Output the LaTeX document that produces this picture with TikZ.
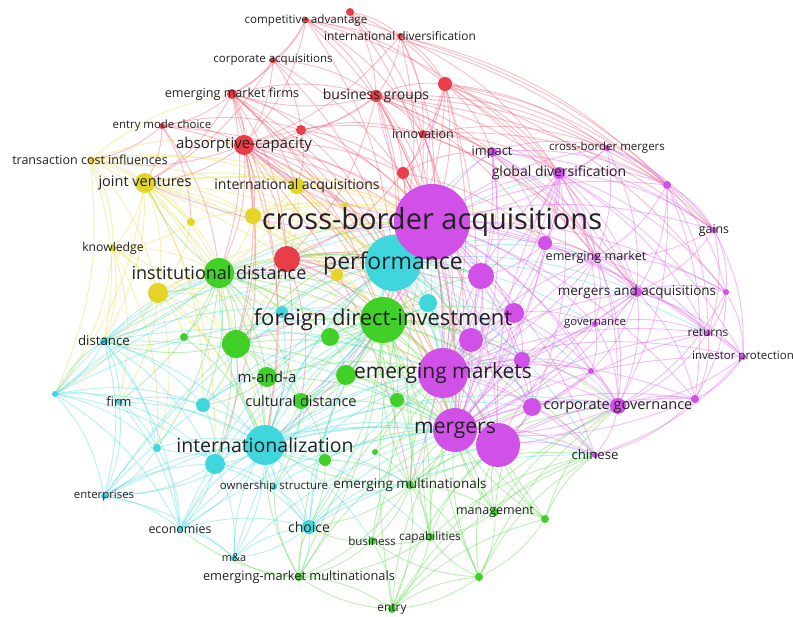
\documentclass[tikz,border=0pt]{standalone}
\usepackage{fontspec}
\setmainfont{Open Sans}
\pgfdeclarelayer{edges}
\pgfdeclarelayer{labels}
\pgfsetlayers{edges,main,labels}
\definecolor{cR}{RGB}{232,62,72}
\definecolor{cY}{RGB}{228,212,40}
\definecolor{cG}{RGB}{64,208,40}
\definecolor{cC}{RGB}{64,214,222}
\definecolor{cM}{RGB}{208,80,232}
\definecolor{txt}{RGB}{34,34,34}
\tikzset{
  dot/.style={circle,inner sep=0pt,outer sep=0pt,fill=#1},
  lbl/.style={text=txt,inner sep=0pt},
  edgebase/.style={line width=0.9pt,opacity=0.42},
  eR/.style={edgebase,draw={rgb,255:red,240;green,100;blue,118}},
  eY/.style={edgebase,draw={rgb,255:red,232;green,220;blue,70}},
  eG/.style={edgebase,draw={rgb,255:red,100;green,220;blue,80}},
  eC/.style={edgebase,draw={rgb,255:red,80;green,220;blue,230}},
  eM/.style={edgebase,draw={rgb,255:red,225;green,100;blue,240}},
}
\newcommand{\kn}[5]{\node[dot=#5,minimum size=#4*2] (#1) at (#2,#3) {};}
\newcommand{\kl}[3]{\node[lbl,font=\fontsize{#2}{#2}\selectfont] at (#1) {#3};}
\begin{document}
\begin{tikzpicture}[x=1pt,y=-1pt]
\useasboundingbox (0,0) rectangle (793,617);
% red
\kn{ca}{306}{20}{3}{cR}
\kn{r1}{350}{12}{4}{cR}
\kn{id}{400}{36}{3}{cR}
\kn{cacq}{273}{60}{3}{cR}
\kn{emf}{232}{94}{5}{cR}
\kn{bg}{376}{96}{6}{cR}
\kn{r2}{445}{84}{7}{cR}
\kn{emc}{162}{126}{3}{cR}
\kn{r3}{301}{130}{5}{cR}
\kn{ac}{244}{145}{10}{cR}
\kn{inn}{423}{134}{4}{cR}
\kn{r4}{403}{173}{6}{cR}
\kn{r5}{287}{259}{13}{cR}
% yellow
\kn{tci}{90}{160}{3}{cY}
\kn{jv}{145}{183}{10}{cY}
\kn{ia}{297}{186}{8}{cY}
\kn{y1}{253}{216}{8}{cY}
\kn{y2}{191}{222}{4}{cY}
\kn{y3}{345}{205}{3}{cY}
\kn{y4}{337}{275}{6}{cY}
\kn{kn}{113}{248}{3}{cY}
\kn{y5}{158}{293}{10}{cY}
% green
\kn{ind}{219}{273}{15}{cG}
\kn{fdi}{383}{320}{23}{cG}
\kn{g1}{236}{344}{14}{cG}
\kn{g2}{184}{337}{4}{cG}
\kn{g3}{330}{337}{9}{cG}
\kn{ma}{267}{377}{10}{cG}
\kn{g4}{346}{375}{10}{cG}
\kn{cd}{301}{401}{8}{cG}
\kn{g5}{397}{400}{7}{cG}
\kn{g6}{325}{460}{6}{cG}
\kn{g7}{375}{452}{3}{cG}
\kn{emn}{410}{485}{4}{cG}
\kn{mgmt}{495}{512}{4}{cG}
\kn{g8}{545}{519}{4}{cG}
\kn{g9}{479}{577}{4}{cG}
\kn{cap}{430}{537}{4}{cG}
\kn{bus}{372}{541}{4}{cG}
\kn{emm}{299}{577}{4}{cG}
\kn{ent}{392}{609}{4}{cG}
% cyan
\kn{perf}{393}{263}{28}{cC}
\kn{c1}{428}{303}{9}{cC}
\kn{c2}{282}{312}{6}{cC}
\kn{dist}{104}{341}{4}{cC}
\kn{c3}{55}{394}{3}{cC}
\kn{firm}{119}{402}{3}{cC}
\kn{c4}{203}{405}{7}{cC}
\kn{intl}{265}{445}{20}{cC}
\kn{c5}{215}{464}{10}{cC}
\kn{c6}{157}{448}{4}{cC}
\kn{own}{274}{487}{3}{cC}
\kn{entp}{104}{496}{3}{cC}
\kn{econ}{180}{529}{3}{cC}
\kn{cho}{309}{527}{7}{cC}
\kn{mna}{234}{558}{3}{cC}
% magenta
\kn{cba}{432}{222}{38}{cM}
\kn{imp}{492}{152}{5}{cM}
\kn{cbm}{607}{148}{3}{cM}
\kn{gd}{559}{173}{6}{cM}
\kn{m1}{667}{185}{4}{cM}
\kn{gains}{714}{230}{3}{cM}
\kn{m2}{545}{243}{7}{cM}
\kn{emk}{596}{257}{3}{cM}
\kn{m3}{481}{276}{13}{cM}
\kn{maa}{637}{292}{5}{cM}
\kn{m4}{726}{292}{3}{cM}
\kn{m5}{514}{313}{10}{cM}
\kn{gov}{595}{324}{3}{cM}
\kn{ret}{708}{333}{3}{cM}
\kn{m6}{471}{340}{12}{cM}
\kn{ip}{743}{357}{3}{cM}
\kn{ems}{443}{373}{25}{cM}
\kn{m7}{522}{360}{8}{cM}
\kn{m8}{591}{371}{3}{cM}
\kn{m9}{532}{407}{9}{cM}
\kn{cg}{618}{406}{8}{cM}
\kn{m10}{695}{399}{4}{cM}
\kn{mer}{455}{430}{22}{cM}
\kn{m11}{498}{445}{22}{cM}
\kn{chi}{595}{455}{3}{cM}
% edges
\begin{pgfonlayer}{edges}
\fill[white] (0,0) rectangle (793,617);
\foreach \s/\tl in {ca/{cacq,bg,emf,ac,cba,r2,id,perf,inn,gd,m1}, r1/{id,bg,r2,cba,inn},
 id/{bg,r2,cba,inn,gd,ac,perf,m1,gains}, cacq/{emf,bg,ac,cba,r3,jv,perf},
 emf/{ac,bg,emc,r3,cba,perf,ind,fdi,ems,jv,ia,r5,mer,intl,g1},
 bg/{r2,inn,r3,ac,cba,perf,r4,gd,imp,ems,mer,fdi,m2,r5,emf,gains,m1,cbm,maa,emk},
 r2/{inn,cba,imp,gd,cbm,m1,mer,ems,r4,perf,gains,maa,m4,emk}, emc/{ac,jv,tci,r3,ia,cba,ind,y2},
 r3/{ac,inn,r4,cba,perf,ia},
 ac/{r5,ia,jv,ind,cba,perf,fdi,ems,mer,y1,y3,g1,r4,inn,intl,tci,m3,m6,emn,c5},
 inn/{r4,cba,imp,perf,gd,ems,mer,m1,maa,emk,cbm}, r4/{cba,perf,r5,imp,m2,ems,fdi,mer},
 r5/{cba,perf,fdi,ind,ems,mer,g1,intl,y4,m3,m6,c1,cd}}
 {\foreach \t in \tl {\draw[eR] (\s.center) to[bend left=15] (\t.center);}}
\foreach \s/\tl in {tci/{jv,kn,y2,ia,y5,ind,ac,emf,cba,dist,c3,perf},
 jv/{y2,y1,ia,ind,kn,y5,perf,cba,fdi,intl,g1,dist,c3,emk,ems,mer,c5,c4,y4},
 ia/{y1,y3,cba,perf,fdi,ind,ems,mer,ac,r5,g1}, y1/{cba,perf,ind,fdi,y3,y4,g1},
 y2/{ind,kn,y5,cba}, y3/{cba,perf,y4}, y4/{perf,fdi,cba},
 kn/{y5,ind,dist,intl,g1,c3,firm,c6}, y5/{ind,dist,intl,g1,fdi,cba,g2,c3,firm,c6,perf,ems}}
 {\foreach \t in \tl {\draw[eY] (\s.center) to[bend left=15] (\t.center);}}
\foreach \s/\tl in {ind/{g1,g2,fdi,perf,cba,ems,mer,ma,cd,intl,c2,g3,dist,c4,firm,c5,c6,y5,jv,m3,m6},
 fdi/{perf,cba,ems,mer,g3,g4,g5,intl,emn,ma,cd,c1,m3,m6,m5,cho,m11,m9,m7,cg,chi,emm,cap,bus},
 g1/{ma,cd,fdi,intl,perf,cba,g3,dist,ems,mer,c5,c4}, g2/{dist,g1,intl}, g3/{fdi,perf,g4,ems},
 ma/{cd,intl,fdi,ems,mer,c4}, g4/{ems,fdi,mer,cd,g5}, cd/{intl,fdi,mer,ems,g6,own},
 g5/{ems,mer,emn,fdi}, g6/{intl,emn,mer,cho}, g7/{emn,mer,ems},
 emn/{mer,ems,intl,cho,bus,cap,mgmt,ent,emm,g9,fdi,m11,chi,cg,m9},
 mgmt/{mer,ems,m11,g8,g9,cap,cba,chi,m9,cg}, g8/{mer,m11,g9,ems,cba,chi,cg},
 g9/{cap,ent,mer,m11,bus,chi,cg,ems}, cap/{mer,ems,ent,bus,emm,cba,m11,chi},
 bus/{ems,ent,emm,cho}, emm/{cho,ent,intl,mna,econ,own,mer,ems,fdi}, ent/{mer,emm,cba,g8,g9,chi,cg,m11}}
 {\foreach \t in \tl {\draw[eG] (\s.center) to[bend left=15] (\t.center);}}
\foreach \s/\tl in {perf/{cba,ems,mer,fdi,c1,m3,m6,m5,intl,m2,gd,imp,emk,maa,gov,cg,m9,m7,m11,chi,ret},
 c1/{cba,ems,mer,fdi}, c2/{fdi,perf,intl,ind},
 dist/{c3,firm,intl,c4,c5,entp,c6,ind,econ,fdi,perf,cba,ems,mer},
 c3/{firm,dist,intl,c6,c5,entp,econ,ind,fdi,c4,perf,cba}, firm/{intl,c5,c6,c4,entp,econ},
 c4/{intl,fdi,c5,ma},
 intl/{c5,cba,perf,fdi,ems,mer,own,cho,econ,entp,mna,emn,c6,m11,m9,m7,cg,chi,ind,g1,cap,bus},
 c5/{intl,own,econ,mna,entp,cho,fdi}, c6/{intl,entp,econ},
 own/{intl,cho,fdi,mer,ems}, entp/{econ,c5,intl,mna,cba,fdi,perf,mer},
 econ/{intl,mna,cho,fdi,mer,ems,perf}, cho/{intl,mna,emn,fdi,mer,ems,emm,cba,m11,chi}, mna/{intl,cho,fdi,mer}}
 {\foreach \t in \tl {\draw[eC] (\s.center) to[bend left=15] (\t.center);}}
\foreach \s/\tl in {cba/{perf,ems,mer,m11,fdi,m3,m6,m5,m2,gd,imp,emk,maa,gov,cg,m9,m7,chi,cbm,m1,gains,ret,ip,m4,m8,m10,emn,ind,intl,ac,bg,r2,jv,ia,g1,cd},
 imp/{gd,cbm,m3,m2,ems,mer,m1,gains,emk,maa}, cbm/{gd,m1,emk,maa,gains,cba},
 gd/{m1,m2,emk,gains,maa,m3,ems,mer,cg,m4,ret,ip,gov,m5,m9}, m1/{gains,maa,m4,emk,ret,cg,m10},
 gains/{m4,maa,ret,ip,emk}, m2/{emk,m3,maa,ems,mer},
 emk/{maa,gov,m4,cg,ems,mer,ret}, m3/{ems,mer,m5,m6,perf},
 maa/{m4,gov,ret,ip,cg,m10,ems,mer,m8}, m4/{ret,ip,cg,m10},
 m5/{ems,mer,m6,cg,m7,gov}, gov/{cg,ret,m8,ems,mer}, ret/{ip,m10,cg},
 m6/{ems,mer,m7,m9}, ip/{m10,cg,chi}, ems/{mer,m11,m7,m9,cg,chi,m8,m5,ret,ip,m10,maa,emk,gd},
 m7/{mer,m9,cg,m8}, m8/{cg,mer,m9}, m9/{mer,m11,cg,chi}, cg/{mer,m11,chi,m10},
 m10/{chi,mer}, mer/{m11,chi,cg,m10,ip,ret,maa,gov,emk}, m11/{chi,cg,m10,ret,maa,gd}}
 {\foreach \t in \tl {\draw[eM] (\s.center) to[bend left=15] (\t.center);}}
\end{pgfonlayer}
% labels
\begin{pgfonlayer}{labels}
\kl{ca}{11.6}{competitive advantage}
\kl{id}{11.9}{international diversification}
\kl{cacq}{11.5}{corporate acquisitions}
\kl{emf}{12.6}{emerging market firms}
\kl{bg}{14}{business groups}
\kl{emc}{11.4}{entry mode choice}
\kl{ac}{15}{absorptive-capacity}
\kl{inn}{12.5}{innovation}
\kl{tci}{12.5}{transaction cost influences}
\kl{jv}{14.5}{joint ventures}
\kl{ia}{14}{international acquisitions}
\kl{kn}{12.2}{knowledge}
\kl{ind}{18}{institutional distance}
\kl{fdi}{22}{foreign direct-investment}
\kl{ma}{15}{m-and-a}
\kl{cd}{14.5}{cultural distance}
\kl{emn}{13.5}{emerging multinationals}
\kl{mgmt}{12.5}{management}
\kl{cap}{11.8}{capabilities}
\kl{bus}{11.6}{business}
\kl{emm}{12.8}{emerging-market multinationals}
\kl{ent}{11.9}{entry}
\kl{perf}{23}{performance}
\kl{dist}{13.3}{distance}
\kl{firm}{13}{firm}
\kl{intl}{19.5}{internationalization}
\kl{own}{11.5}{ownership structure}
\kl{entp}{11.4}{enterprises}
\kl{econ}{12.4}{economies}
\kl{cho}{14}{choice}
\kl{mna}{10.9}{m\&a}
\kl{cba}{29}{cross-border acquisitions}
\kl{imp}{12.8}{impact}
\kl{cbm}{11.5}{cross-border mergers}
\kl{gd}{14}{global diversification}
\kl{gains}{12.3}{gains}
\kl{emk}{12.6}{emerging market}
\kl{maa}{13.5}{mergers and acquisitions}
\kl{gov}{11.4}{governance}
\kl{ret}{11.9}{returns}
\kl{ip}{11.5}{investor protection}
\kl{ems}{21}{emerging markets}
\kl{cg}{14.5}{corporate governance}
\kl{mer}{21}{mergers}
\kl{chi}{13.2}{chinese}
\end{pgfonlayer}
\end{tikzpicture}
\end{document}
